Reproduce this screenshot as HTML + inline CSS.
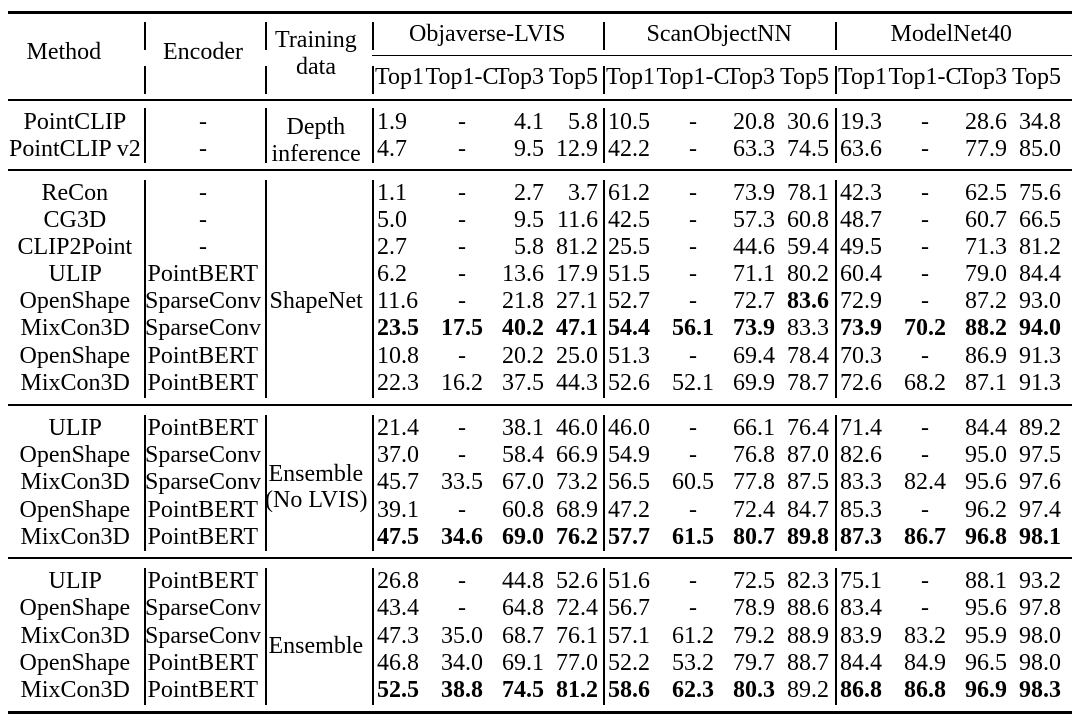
<!DOCTYPE html>
<html><head><meta charset="utf-8">
<style>
body{margin:0;background:#fff;}
#t{position:relative;width:1080px;height:720px;overflow:hidden;font-family:"Liberation Serif",serif;font-size:24px;color:#000;}
#t div{position:absolute;white-space:nowrap;line-height:1;}
.h{background:#000;}
.b{font-weight:bold;}
</style></head><body>
<div id="t"></div>
<script>
const methods=[["PointCLIP","PointCLIP v2"],["ReCon","CG3D","CLIP2Point","ULIP","OpenShape","MixCon3D","OpenShape","MixCon3D"],["ULIP","OpenShape","MixCon3D","OpenShape","MixCon3D"],["ULIP","OpenShape","MixCon3D","OpenShape","MixCon3D"]];
const encoders=[["-","-"],["-","-","-","PointBERT","SparseConv","SparseConv","PointBERT","PointBERT"],["PointBERT","SparseConv","SparseConv","PointBERT","PointBERT"],["PointBERT","SparseConv","SparseConv","PointBERT","PointBERT"]];
const values=[
[["1.9","-","4.1","5.8","10.5","-","20.8","30.6","19.3","-","28.6","34.8"],
 ["4.7","-","9.5","12.9","42.2","-","63.3","74.5","63.6","-","77.9","85.0"]],
[["1.1","-","2.7","3.7","61.2","-","73.9","78.1","42.3","-","62.5","75.6"],
 ["5.0","-","9.5","11.6","42.5","-","57.3","60.8","48.7","-","60.7","66.5"],
 ["2.7","-","5.8","81.2","25.5","-","44.6","59.4","49.5","-","71.3","81.2"],
 ["6.2","-","13.6","17.9","51.5","-","71.1","80.2","60.4","-","79.0","84.4"],
 ["11.6","-","21.8","27.1","52.7","-","72.7","*83.6","72.9","-","87.2","93.0"],
 ["*23.5","*17.5","*40.2","*47.1","*54.4","*56.1","*73.9","83.3","*73.9","*70.2","*88.2","*94.0"],
 ["10.8","-","20.2","25.0","51.3","-","69.4","78.4","70.3","-","86.9","91.3"],
 ["22.3","16.2","37.5","44.3","52.6","52.1","69.9","78.7","72.6","68.2","87.1","91.3"]],
[["21.4","-","38.1","46.0","46.0","-","66.1","76.4","71.4","-","84.4","89.2"],
 ["37.0","-","58.4","66.9","54.9","-","76.8","87.0","82.6","-","95.0","97.5"],
 ["45.7","33.5","67.0","73.2","56.5","60.5","77.8","87.5","83.3","82.4","95.6","97.6"],
 ["39.1","-","60.8","68.9","47.2","-","72.4","84.7","85.3","-","96.2","97.4"],
 ["*47.5","*34.6","*69.0","*76.2","*57.7","*61.5","*80.7","*89.8","*87.3","*86.7","*96.8","*98.1"]],
[["26.8","-","44.8","52.6","51.6","-","72.5","82.3","75.1","-","88.1","93.2"],
 ["43.4","-","64.8","72.4","56.7","-","78.9","88.6","83.4","-","95.6","97.8"],
 ["47.3","35.0","68.7","76.1","57.1","61.2","79.2","88.9","83.9","83.2","95.9","98.0"],
 ["46.8","34.0","69.1","77.0","52.2","53.2","79.7","88.7","84.4","84.9","96.5","98.0"],
 ["*52.5","*38.8","*74.5","*81.2","*58.6","*62.3","*80.3","89.2","*86.8","*86.8","*96.9","*98.3"]]];
const groups=["Objaverse-LVIS","ScanObjectNN","ModelNet40"];
const subs=["Top1","Top1-C","Top3","Top5"];
const rowY=[[122,149],[193,220,247,274,301,328,356,383],[428,455,482,510,537],[581,608,636,663,690]];
const training=[[["Depth",127],["inference",154]],[["ShapeNet",301]],[["Ensemble",474],["(No LVIS)",500]],[["Ensemble",646]]];
const T=document.getElementById('t');
function txt(s,x,y,al,name){const d=document.createElement('div');
 
 
 let b=false;if(s[0]==='*'){b=true;s=s.slice(1);}
 d.textContent=s;if(b)d.className='b';T.appendChild(d);
 const w=d.offsetWidth;let l=x;if(al==='c')l=x-w/2;else if(al==='r')l=x-w;
 d.style.left=l+'px';d.style.top=(y-12)+'px';}
function line(x,y,w,h,name){const d=document.createElement('div');
 
 
 d.className='h';d.style.left=x+'px';d.style.top=y+'px';d.style.width=w+'px';d.style.height=h+'px';T.appendChild(d);}
line(8,11,1064,3,'top-rule');
line(372,55,700,1,'group-underline');
line(8,99,1064,2,'header-rule');
line(8,169,1064,2,'section-rule');
line(8,404,1064,2,'section-rule');
line(8,557,1064,2,'section-rule');
line(8,711,1064,3,'bottom-rule');
txt("Method",64,52,'c','method-header');
txt("Encoder",203,52,'c','encoder-header');
txt("Training",316,40,'c','training-header');
txt("data",316,67,'c','training-header');
[487,719,951].forEach((c,i)=>txt(groups[i],c,34,'c','group-header'));
const colX=[[376,'l'],[462,'c'],[544,'r'],[598,'r']];
const off=[0,231,463];
off.forEach((o,g)=>subs.forEach((s,k)=>{const x=colX[k][0]+o;txt(s,k==0?x-1:x,77,colX[k][1],'subheader-'+s.toLowerCase());}));
[[144,22,28],[144,66,28],[265,22,28],[265,66,28],[372,22,28],[372,66,28],[603,22,28],[603,66,28],[835,22,28],[835,66,28]].forEach(v=>line(v[0],v[1],2,v[2],'header-divider'));
const secBot=[169,404,557,711];
const starts=[108,180,415,568];
values.forEach((sec,si)=>{
 [144,265,372,603,835].forEach(x=>line(x,starts[si],2,secBot[si]-starts[si]-6,'column-divider'));
 training[si].forEach(t=>txt(t[0],316,t[1],'c','training-data'));
 sec.forEach((row,ri)=>{const y=rowY[si][ri];
  txt(methods[si][ri],75,y,'c','method-name');
  txt(encoders[si][ri],203,y,'c','encoder-name');
  row.forEach((v,ci)=>{const g=Math.floor(ci/4),k=ci%4;txt(v,colX[k][0]+off[g]+(k==0?1:0),y,colX[k][1],'cell-value');});
 });
});
</script>
</body></html>
